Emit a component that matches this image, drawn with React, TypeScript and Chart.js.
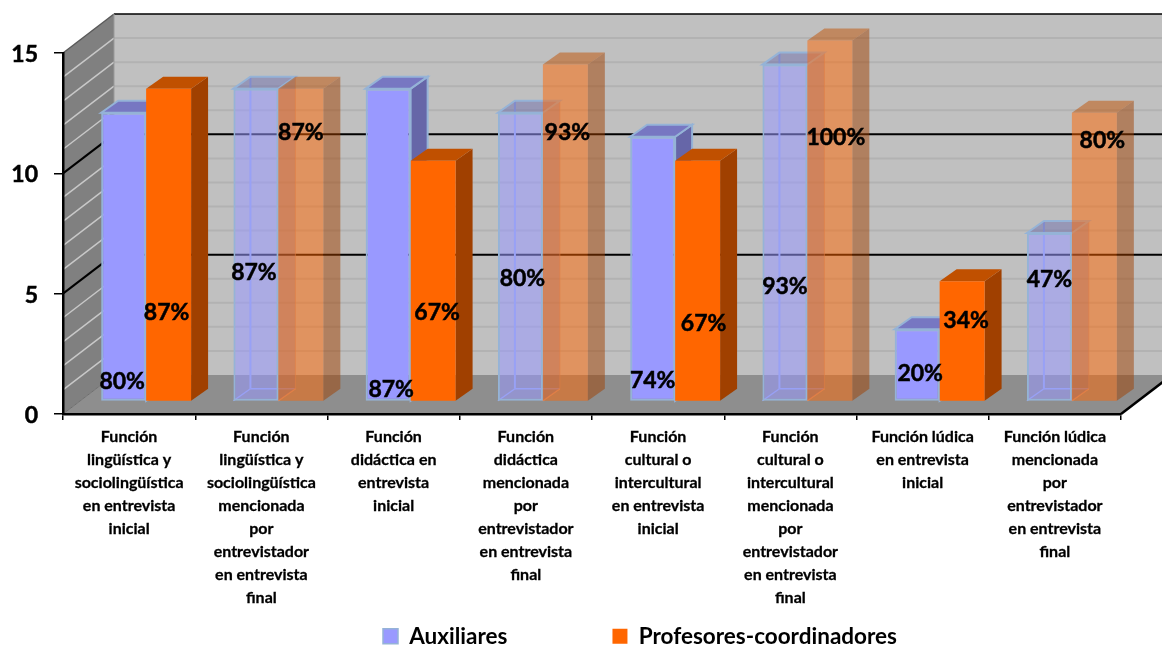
import React, { useEffect, useRef } from "react";
import { Chart, registerables } from "chart.js";

Chart.register(...registerables);

const categories = [
  ["Función", "lingüística y", "sociolingüística", "en entrevista", "inicial"],
  ["Función", "lingüística y", "sociolingüística", "mencionada", "por", "entrevistador", "en entrevista", "final"],
  ["Función", "didáctica en", "entrevista", "inicial"],
  ["Función", "didáctica", "mencionada", "por", "entrevistador", "en entrevista", "final"],
  ["Función", "cultural o", "intercultural", "en entrevista", "inicial"],
  ["Función", "cultural o", "intercultural", "mencionada", "por", "entrevistador", "en entrevista", "final"],
  ["Función lúdica", "en entrevista", "inicial"],
  ["Función lúdica", "mencionada", "por", "entrevistador", "en entrevista", "final"],
];

const auxiliares = [12, 13, 13, 12, 11, 14, 3, 7];
const profesores = [13, 13, 10, 14, 10, 15, 5, 12];

const auxiliaresLabels = ["80%", "87%", "87%", "80%", "74%", "93%", "20%", "47%"];
const profesoresLabels = ["87%", "87%", "67%", "93%", "67%", "100%", "34%", "80%"];

const seriesNames = ["Auxiliares", "Profesores-coordinadores"];

// Oblique projection of the box: the wall depth, the depth of a bar, and how far
// into the room the bar fronts stand.
const WALL_DX = 51;
const WALL_DY = 39;
const BAR_DX = 17;
const BAR_DY = 12;
const FRONT_DY = 12.5;

// Percent labels are hand-placed relative to each bar's front face.
const auxLabelShift = [
  [-1.5, 20], [-2, 129], [3, 12], [2, 123], [0, 21], [0, 115], [3, 28], [0, 122],
];
const profLabelShift = [
  [-2, 89], [0, 269], [4, 89], [2, 269], [6, 78], [6, 264], [4, 81], [8, 261],
];

const AUX_FILL = "#9999FF";
const AUX_BORDER = "#95B3D7";
const PROF_FILL = "#FF6600";
const LABEL_FONT = "Lato";

// Every second category is drawn as a see-through glass box.
const isGlass = (i: number) => i % 2 === 1;

const poly = (ctx: CanvasRenderingContext2D, pts: number[][], fill?: string, stroke?: string, width = 1) => {
  ctx.beginPath();
  pts.forEach(([x, y], i) => (i ? ctx.lineTo(x, y) : ctx.moveTo(x, y)));
  ctx.closePath();
  if (fill) {
    ctx.fillStyle = fill;
    ctx.fill();
  }
  if (stroke) {
    ctx.strokeStyle = stroke;
    ctx.lineWidth = width;
    ctx.stroke();
  }
};

const seg = (ctx: CanvasRenderingContext2D, x1: number, y1: number, x2: number, y2: number, color: string, width: number) => {
  ctx.beginPath();
  ctx.moveTo(x1, y1);
  ctx.lineTo(x2, y2);
  ctx.strokeStyle = color;
  ctx.lineWidth = width;
  ctx.stroke();
};

// Back wall, side wall and floor behind the axes.
const roomPlugin = {
  id: "room",
  beforeDraw(chart: any) {
    const { ctx, chartArea, scales } = chart;
    const y = scales.y;
    const { left, right } = chartArea;
    const y0 = y.getPixelForValue(0);
    const yTop = y.getPixelForValue(15);
    const W = chart.width + 20;
    ctx.save();
    ctx.lineCap = "butt";
    poly(ctx, [[left + WALL_DX, yTop - WALL_DY], [W, yTop - WALL_DY], [W, y0 - WALL_DY], [left + WALL_DX, y0 - WALL_DY]], "#C0C0C0");
    poly(ctx, [[left, yTop], [left + WALL_DX, yTop - WALL_DY], [left + WALL_DX, y0 - WALL_DY], [left, y0]], "#808080");
    poly(ctx, [[left, y0], [left + WALL_DX, y0 - WALL_DY], [right + WALL_DX, y0 - WALL_DY], [right, y0]], "#8E8E8E");
    for (let v = 1; v < 15; v++) {
      const py = y.getPixelForValue(v);
      const major = v % 5 === 0;
      seg(ctx, left + WALL_DX, py - WALL_DY, W, py - WALL_DY, major ? "#000000" : "#B2B2B2", 2);
      seg(ctx, left, py, left + WALL_DX, py - WALL_DY, major ? "#000000" : "#C8C8C8", major ? 2 : 1.5);
    }
    seg(ctx, left + WALL_DX, yTop - WALL_DY, W, yTop - WALL_DY, "#000000", 1.5);
    seg(ctx, left, yTop, left + WALL_DX, yTop - WALL_DY, "#5A5A5A", 1.5);
    seg(ctx, left + WALL_DX, yTop - WALL_DY, left + WALL_DX, y0 - WALL_DY, "#9A9A9A", 1);
    seg(ctx, left, y0, left + WALL_DX, y0 - WALL_DY, "#6E6E6E", 1);
    seg(ctx, right, y0, right + WALL_DX, y0 - WALL_DY, "#000000", 2.5);
    ctx.restore();
  },

  // The bars sit a third of the way into the room, so their fronts are shifted
  // together with the side and top faces drawn here.
  beforeDatasetsDraw(chart: any) {
    const { ctx } = chart;
    const auxBars = chart.getDatasetMeta(0).data;
    const profBars = chart.getDatasetMeta(1).data;
    ctx.save();
    ctx.translate(BAR_DX, -FRONT_DY);
    auxBars.forEach((b: any, i: number) => {
      const p = b.getProps(["x", "y", "base", "width"], true);
      const l = p.x - p.width / 2;
      const r = p.x + p.width / 2;
      const glass = isGlass(i);
      const dx = BAR_DX;
      const dy = BAR_DY;
      if (glass) {
        seg(ctx, l + dx, p.y - dy, l + dx, p.base - dy, "#98AAEA", 2);
        seg(ctx, l + dx, p.base - dy, r + dx, p.base - dy, "#98AAEA", 1.5);
        seg(ctx, l, p.base, l + dx, p.base - dy, "#98AAEA", 1.5);
        seg(ctx, r, p.base, r + dx, p.base - dy, "#C9A090", 1.5);
      }
      poly(
        ctx,
        [[r, p.y], [r + dx, p.y - dy], [r + dx, p.base - dy], [r, p.base]],
        glass ? "rgba(102,102,170,0.35)" : "#6666A8",
        glass ? "rgba(200,150,130,0.55)" : AUX_BORDER,
        glass ? 1 : 2
      );
      poly(ctx, [[l, p.y], [l + dx, p.y - dy], [r + dx, p.y - dy], [r, p.y]], glass ? "rgba(102,102,170,0.45)" : "#7777C2", AUX_BORDER, 2);
    });
    profBars.forEach((b: any, i: number) => {
      const p = b.getProps(["x", "y", "base", "width"], true);
      const l = p.x - p.width / 2;
      const r = p.x + p.width / 2;
      const glass = isGlass(i);
      const dx = BAR_DX;
      const dy = BAR_DY;
      poly(ctx, [[r, p.y], [r + dx, p.y - dy], [r + dx, p.base - dy], [r, p.base]], glass ? "rgba(160,64,0,0.5)" : "#A04000");
      poly(ctx, [[l, p.y], [l + dx, p.y - dy], [r + dx, p.y - dy], [r, p.y]], glass ? "rgba(192,80,0,0.5)" : "#C05000");
    });
  },

  afterDatasetsDraw(chart: any) {
    const { ctx, scales } = chart;
    ctx.restore();
    const base = scales.y.getPixelForValue(0) - BAR_DY;
    ctx.save();
    ctx.font = `700 23px ${LABEL_FONT}`;
    ctx.fillStyle = "#000000";
    ctx.strokeStyle = "#000000";
    ctx.lineWidth = 0.5;
    ctx.textAlign = "center";
    ctx.textBaseline = "middle";
    const put = (datasetIndex: number, texts: string[], shift: number[][]) => {
      chart.getDatasetMeta(datasetIndex).data.forEach((b: any, i: number) => {
        const x = b.getProps(["x"], true).x + BAR_DX + shift[i][0];
        const y = base - shift[i][1];
        ctx.fillText(texts[i], x, y);
        ctx.strokeText(texts[i], x, y);
      });
    };
    put(0, auxiliaresLabels, auxLabelShift);
    put(1, profesoresLabels, profLabelShift);
    ctx.restore();
  },
};

// The legend row sits right of centre under the plot; the category labels keep
// the room above it.
const legendPlacement = {
  id: "legendPlacement",
  beforeDraw(chart: any) {
    const legend = chart.legend;
    const pad = legend.options.labels.padding;
    legend.left = 383 - pad;
    legend.right = legend.left + 1162;
    legend.top = 625 - pad;
    chart.scales.x.bottom = 622;
  },
};

export default function App() {
  const ref = useRef<HTMLCanvasElement | null>(null);

  useEffect(() => {
    const chart = new Chart(ref.current as HTMLCanvasElement, {
      type: "bar",
      data: {
        labels: categories,
        datasets: [
          {
            label: seriesNames[0],
            data: auxiliares,
            backgroundColor: auxiliares.map((_, i) => (isGlass(i) ? "rgba(153,153,255,0.55)" : AUX_FILL)),
            borderColor: AUX_BORDER,
            borderWidth: 2,
            borderSkipped: false,
          },
          {
            label: seriesNames[1],
            data: profesores,
            backgroundColor: profesores.map((_, i) => (isGlass(i) ? "rgba(255,102,0,0.5)" : PROF_FILL)),
            borderWidth: 0,
          },
        ],
      },
      options: {
        animation: false,
        responsive: false,
        maintainAspectRatio: false,
        devicePixelRatio: 1,
        layout: { padding: { top: 53, right: 41, left: 0, bottom: 0 } },
        datasets: { bar: { categoryPercentage: 0.68, barPercentage: 1, clip: false as any } },
        plugins: {
          title: { display: false },
          tooltip: { enabled: false },
          legend: {
            display: true,
            position: "bottom",
            align: "start",
            labels: {
              boxWidth: 15,
              boxHeight: 15,
              padding: 105,
              color: "#000000",
              font: { family: LABEL_FONT, weight: "bold", size: 22.5 },
              generateLabels: () => [
                { text: seriesNames[0], fillStyle: AUX_FILL, strokeStyle: AUX_BORDER, lineWidth: 1.5, datasetIndex: 0 },
                { text: seriesNames[1], fillStyle: PROF_FILL, strokeStyle: PROF_FILL, lineWidth: 0, datasetIndex: 1 },
              ],
            },
          },
        },
        scales: {
          x: {
            offset: true,
            afterFit(axis: any) {
              const legendHeight = axis.chart.legend ? axis.chart.legend.height : 0;
              axis.height = 646 - 414 - legendHeight;
            },
            grid: { display: true, drawOnChartArea: false, drawTicks: true, tickLength: 6, color: "#000000", lineWidth: 1.5 },
            border: { display: true, color: "#000000", width: 2.5 },
            ticks: {
              autoSkip: false,
              maxRotation: 0,
              minRotation: 0,
              padding: 5,
              color: "#000000",
              textStrokeColor: "#000000",
              textStrokeWidth: 0.3,
              font: { family: LABEL_FONT, weight: "bold", size: 16, lineHeight: 23 / 16 },
            },
          },
          y: {
            min: 0,
            max: 15,
            afterFit(axis: any) {
              axis.width = 63;
            },
            grid: { display: true, drawOnChartArea: false, drawTicks: true, tickLength: 9, color: "#000000", lineWidth: 1.5 },
            border: { display: true, color: "#000000", width: 2.5 },
            ticks: {
              stepSize: 5,
              padding: 16,
              labelOffset: 1.5,
              color: "#000000",
              textStrokeColor: "#000000",
              textStrokeWidth: 0.5,
              font: { family: LABEL_FONT, weight: "bold", size: 23 },
            },
          },
        },
      },
      plugins: [roomPlugin, legendPlacement],
    } as any);
    return () => chart.destroy();
  }, []);

  return (
    <div style={{ position: "fixed", left: 0, top: 0, width: 1162, height: 646, background: "#FFFFFF", overflow: "hidden" }}>
      <canvas ref={ref} width={1162} height={646} style={{ display: "block", width: 1162, height: 646 }} />
    </div>
  );
}
